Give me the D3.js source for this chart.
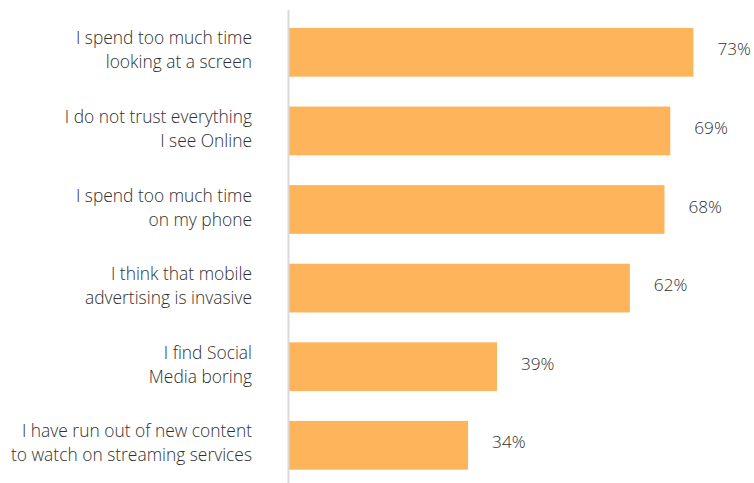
<!DOCTYPE html>
<html>
<head>
<meta charset="utf-8">
<script src="https://cdn.jsdelivr.net/npm/d3@7"></script>
<style>
  html, body { margin: 0; padding: 0; background: #fff; }
  svg { display: block; }
  text { font-family: "Open Sans", "Noto Sans", sans-serif; font-weight: 300; fill: #2f2f2f; }
</style>
</head>
<body>
<svg id="chart" width="754" height="483"></svg>
<script>
// Survey statements (two lines each) and share of respondents agreeing
const categories = [
  ["I spend too much time", "looking at a screen"],
  ["I do not trust everything", "I see Online"],
  ["I spend too much time", "on my phone"],
  ["I think that mobile", "advertising is invasive"],
  ["I find Social", "Media boring"],
  ["I have run out of new content", "to watch on streaming services"]
];
const values = [73, 69, 68, 62, 39, 34];

const svg = d3.select("#chart");
const axisX = 289;

const x = d3.scaleLinear().domain([3, 80]).range([axisX, axisX + 77 * 5.777]);
const y = d3.scaleBand()
  .domain(d3.range(values.length))
  .range([13, 13 + 6 * 78.6])
  .paddingInner(0.38)
  .paddingOuter(0.19);

// bars
svg.selectAll("rect.bar")
  .data(values)
  .join("rect")
  .attr("class", "bar")
  .attr("x", axisX)
  .attr("y", (d, i) => y(i))
  .attr("width", d => x(d) - axisX)
  .attr("height", y.bandwidth())
  .attr("fill", "#FDB45A");

// vertical category axis line
svg.append("line")
  .attr("x1", axisX - 0.5).attr("x2", axisX - 0.5)
  .attr("y1", 10).attr("y2", 483)
  .attr("stroke", "#d9d9d9")
  .attr("stroke-width", 2);

// value labels
svg.selectAll("text.val")
  .data(values)
  .join("text")
  .attr("class", "val")
  .attr("x", d => x(d) + 24)
  .attr("y", (d, i) => y(i) + y.bandwidth() / 2 - 3)
  .attr("dy", "0.35em")
  .attr("font-size", 17.2)
  .text(d => d + "%");

// category labels, right aligned
const lab = svg.selectAll("text.cat")
  .data(categories)
  .join("text")
  .attr("class", "cat")
  .attr("text-anchor", "end")
  .attr("font-size", 17.4);
lab.selectAll("tspan")
  .data((d, i) => d.map((t, j) => ({ t, i, j })))
  .join("tspan")
  .attr("x", 252)
  .attr("y", d => y(d.i) + y.bandwidth() / 2 - 8 + d.j * 24)
  .text(d => d.t);
</script>
</body>
</html>
